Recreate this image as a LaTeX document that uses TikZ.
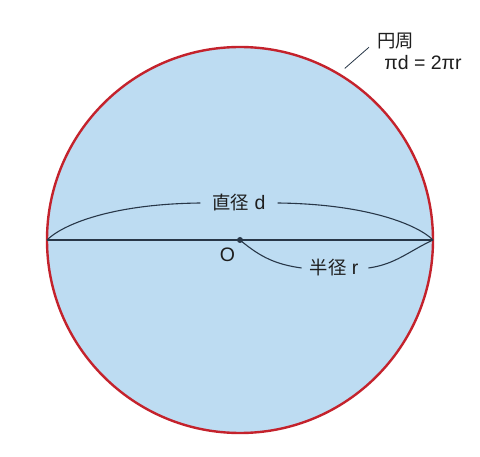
\documentclass[tikz,border=0pt]{standalone}
\usepackage{fontspec}
\setmainfont{Liberation Sans}
\newfontfamily\cjk[Scale=0.94]{Noto Sans CJK JP}
\usepackage{tikz}
\usetikzlibrary{positioning, calc}
\definecolor{circred}{RGB}{196,34,44}
\definecolor{circblue}{RGB}{189,220,242}
\definecolor{inkline}{RGB}{40,55,72}
\definecolor{inktext}{RGB}{30,30,30}
\tikzstyle{rim}=[%
      draw=circred, line width=2.4pt, fill=circblue
]
\tikzstyle{guide}=[%
      draw=inkline, line width=1.1pt
]
\tikzstyle{lbl}=[%
      text=inktext, inner sep=3pt, font=\fontsize{19.5}{22}\selectfont
]

\begin{document}
\begin{tikzpicture}[x=1pt, y=1pt]
    \useasboundingbox (0,0) rectangle (480,456);

    \coordinate (C) at (240,216);
    \draw[rim] (C) circle (193);
    \coordinate (L) at (47,216);
    \coordinate (R) at (433,216);
    \fill[inkline] (C) circle (3);

    \node[lbl]   (dlabel) at (239,253) {{\cjk 直径} d};
    \node[lbl]   (rlabel) at (334,188) {{\cjk 半径} r};
    \node[lbl]   (o)      at (227.5,201) {O};
    \node[lbl]   (circ)   at (395.5,415) {\cjk 円周};
    \node[lbl]   (circf)  at (423,393) {πd = 2πr};
    \coordinate  (lead)   at ($(C)+(58.6:201)$);

    \draw[guide] (L) -- (R);
    \draw[guide] (L) .. controls +(15,15) and +(-90,-1) .. ([xshift=-9pt]dlabel.west);
    \draw[guide] ([xshift=9pt]dlabel.east) .. controls +(90,-1) and +(-15,15) .. (R);
    \draw[guide] (C) to[out=-40, in=172] ([xshift=-5pt]rlabel.west);
    \draw[guide] ([xshift=7pt]rlabel.east) to[out=8, in=205] (R);
    \draw[inkline, line width=0.8pt] (lead) -- ([shift={(-5pt,5pt)}]circ.south west);

  \end{tikzpicture}
\end{document}
